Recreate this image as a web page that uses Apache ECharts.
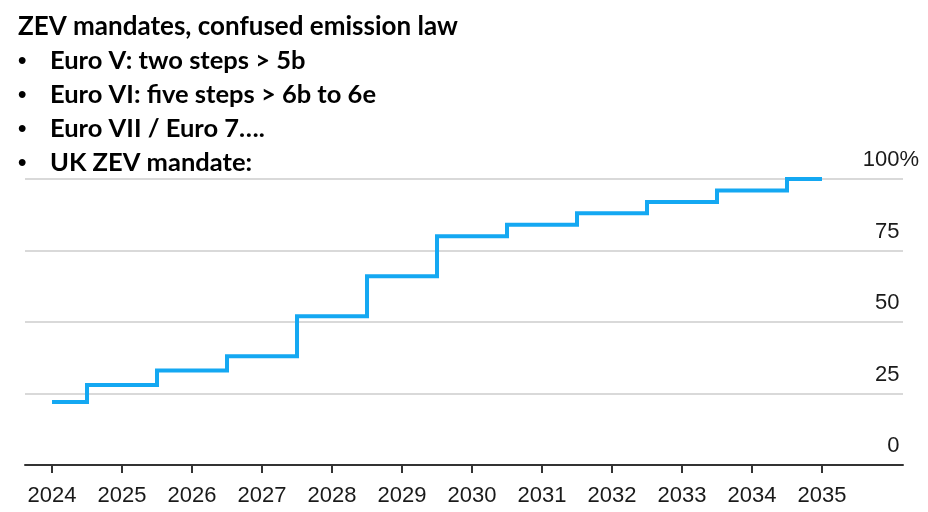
<!DOCTYPE html>
<html>
<head>
<meta charset="utf-8">
<script src="https://cdn.jsdelivr.net/npm/echarts@6/dist/echarts.min.js"></script>
<style>
html,body{margin:0;padding:0;background:#fff;}
#c{width:928px;height:512px;}
</style>
</head>
<body>
<div id="c"></div>
<script>
const titleText = 'ZEV mandates, confused emission law';
const bulletLines = [
  'Euro V: two steps > 5b',
  'Euro VI: five steps > 6b to 6e',
  'Euro VII / Euro 7….',
  'UK ZEV mandate:'
];
const years = [2024, 2025, 2026, 2027, 2028, 2029, 2030, 2031, 2032, 2033, 2034, 2035];
const zevShare = [22, 28, 33, 38, 52, 66, 80, 84, 88, 92, 96, 100];
const yTicks = [0, 25, 50, 75, 100];

const chart = echarts.init(document.getElementById('c'), null, {renderer: 'canvas'});

const titleRich = {
  t: {fontFamily: 'Lato', fontWeight: 'bold', fontSize: 26, color: '#000', lineHeight: 34},
  s: {fontFamily: 'Lato', fontWeight: 'bold', fontSize: 25.5, color: '#000', lineHeight: 34},
  b: {fontFamily: 'Liberation Sans', fontWeight: 'bold', fontSize: 24, color: '#000', lineHeight: 34, width: 32},
};
const titleStr = ['{t|' + titleText + '}']
  .concat(bulletLines.map(s => '{b|•}{s|' + s + '}'))
  .join('\n');

chart.setOption({
  animation: false,
  backgroundColor: '#fff',
  title: {
    text: titleStr,
    left: 13,
    top: 5,
    textStyle: {rich: titleRich, fontFamily: 'Lato', fontWeight: 'bold', fontSize: 26, lineHeight: 34}
  },
  grid: {left: 25, right: 25, top: 179, bottom: 47, containLabel: false},
  xAxis: {
    type: 'value',
    min: 2023.614,
    max: 2036.157,
    axisLine: {show: true, lineStyle: {color: '#333', width: 2}},
    axisTick: {show: true, length: 8, lineStyle: {color: '#333', width: 2}, customValues: years},
    axisLabel: {
      customValues: years,
      margin: 20,
      fontFamily: 'Liberation Sans',
      fontSize: 22,
      color: '#1a1a1a',
      formatter: v => String(v)
    },
    splitLine: {show: false}
  },
  yAxis: {
    type: 'value',
    position: 'right',
    min: 0,
    max: 100,
    interval: 25,
    axisLine: {show: false},
    axisTick: {show: false},
    splitLine: {show: true, lineStyle: {color: '#d9d9d9', width: 2}},
    axisLabel: {
      customValues: yTicks,
      inside: false,
      margin: 16,
      align: 'right',
      verticalAlign: 'bottom',
      padding: [0, 0, 8, 0],
      fontFamily: 'Liberation Sans',
      fontSize: 22,
      color: '#1a1a1a',
      formatter: v => v === 100 ? '{n|100}{p|%}' : '{n|' + v + '}{h|%}',
      rich: {
        n: {fontFamily: 'Liberation Sans', fontSize: 22, color: '#1a1a1a'},
        p: {fontFamily: 'Liberation Sans', fontSize: 22, color: '#1a1a1a'},
        h: {fontFamily: 'Liberation Sans', fontSize: 22, color: 'rgba(0,0,0,0)'}
      }
    }
  },
  series: [{
    type: 'line',
    step: 'middle',
    data: years.map((y, i) => [y, zevShare[i]]),
    showSymbol: false,
    symbol: 'none',
    lineStyle: {color: '#14a8f2', width: 4, cap: 'butt', join: 'miter'},
    z: 5
  }]
});
</script>
</body>
</html>
